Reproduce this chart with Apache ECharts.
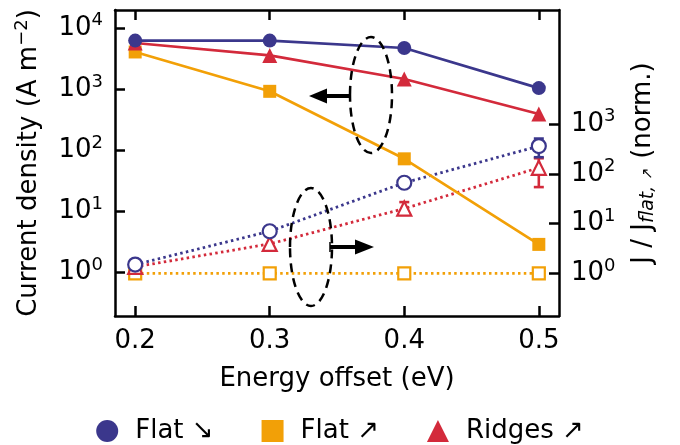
<!DOCTYPE html>
<html>
<head>
<meta charset="utf-8">
<script src="https://cdn.jsdelivr.net/npm/echarts@6/dist/echarts.min.js"></script>
<style>
  html, body { margin: 0; padding: 0; background: #fff; }
  #chart { width: 680px; height: 445px; }
</style>
</head>
<body>
<div id="chart"></div>
<script>
const energyOffset = [0.2, 0.3, 0.4, 0.5];
const xTicks = [0.2, 0.3, 0.4, 0.5];
const leftTicks = [1, 10, 100, 1000, 10000];
const rightTicks = [1, 10, 100, 1000];

// current density (A m^-2), left axis
const flatDown = [6300, 6300, 4760, 1050];
const flatUp = [4100, 930, 73, 2.9];
const ridgesUp = [5750, 3600, 1480, 395];

// normalised to flat-up, right axis
const flatDownNorm = [1.5, 7, 66, 360];
const flatUpNorm = [1, 1, 1, 1];
const ridgesUpNorm = [1.35, 3.9, 20, 132];

// error bars on the normalised data: [x, low, high]
const flatDownErr = [[0.5, 215, 510]];
const ridgesUpErr = [[0.4, 15, 27], [0.5, 54, 205]];

const NAVY = '#3b378c';
const ORANGE = '#f2a007';
const RED = '#d32a3b';
const FONT = 'DejaVu Sans';

const chartDom = document.getElementById('chart');
const myChart = echarts.init(chartDom);

function pairs(ys) {
    return energyOffset.map((x, i) => [x, ys[i]]);
}

const powRich = {
    b: { fontSize: 26, fontFamily: FONT, color: '#000' },
    s: { fontSize: 18, fontFamily: FONT, color: '#000', padding: [0, 0, 15, 0] }
};
function powLabel(v) {
    return '{b|10}{s|' + Math.round(Math.log10(v)) + '}';
}

function solidSeries(name, ys, color, symbol, size) {
    return {
        name: name,
        type: 'line',
        yAxisIndex: 0,
        data: pairs(ys),
        symbol: symbol,
        symbolSize: size,
        showSymbol: true,
        color: color,
        lineStyle: { color: color, width: 2.7 },
        itemStyle: { color: color, borderWidth: 0 },
        animation: false,
        z: 3
    };
}

function openSeries(name, ys, color, symbol, size) {
    return {
        name: name,
        type: 'line',
        yAxisIndex: 1,
        data: pairs(ys),
        symbol: symbol,
        symbolSize: size,
        showSymbol: true,
        color: color,
        lineStyle: { color: color, width: 2.8, type: [2.5, 3.3], cap: 'butt' },
        itemStyle: { color: '#fff', borderColor: color, borderWidth: 2.2 },
        animation: false,
        z: 3
    };
}

function errSeries(name, data, color) {
    return {
        name: name,
        type: 'custom',
        yAxisIndex: 1,
        data: data,
        animation: false,
        z: 2,
        renderItem: function (params, api) {
            const x = api.value(0);
            const lo = api.coord([x, api.value(1)]);
            const hi = api.coord([x, api.value(2)]);
            const w = 5;
            const st = { stroke: color, lineWidth: 2.6 };
            return {
                type: 'group',
                children: [
                    { type: 'line', shape: { x1: lo[0], y1: lo[1], x2: hi[0], y2: hi[1] }, style: st },
                    { type: 'line', shape: { x1: lo[0] - w, y1: lo[1], x2: lo[0] + w, y2: lo[1] }, style: st },
                    { type: 'line', shape: { x1: hi[0] - w, y1: hi[1], x2: hi[0] + w, y2: hi[1] }, style: st }
                ]
            };
        }
    };
}

const axisLineStyle = { color: '#000', width: 2.5 };

const option = {
    backgroundColor: '#fff',
    animation: false,
    textStyle: { fontFamily: FONT, color: '#000' },
    grid: { left: 115, right: 121, top: 10, bottom: 129 },
    legend: {
        data: [
            { name: 'Flat ↘', icon: 'circle' },
            { name: 'Flat ↗', icon: 'rect' },
            { name: 'Ridges ↗', icon: 'triangle' }
        ],
        left: 'center',
        top: 413,
        itemWidth: 22,
        itemHeight: 22,
        itemGap: 48,
        textStyle: { fontSize: 26, fontFamily: FONT, color: '#000', padding: [0, 0, 0, 12] }
    },
    xAxis: [
        {
            type: 'value',
            min: 0.185,
            max: 0.515,
            name: 'Energy offset (eV)',
            nameLocation: 'middle',
            nameGap: 50,
            nameTextStyle: { fontSize: 26, fontFamily: FONT, color: '#000' },
            axisLine: { show: true, lineStyle: axisLineStyle },
            axisTick: { show: true, inside: true, length: 10, lineStyle: axisLineStyle, customValues: xTicks },
            axisLabel: { fontSize: 26, fontFamily: FONT, color: '#000', margin: 12, customValues: xTicks,
                formatter: v => v.toFixed(1) },
            splitLine: { show: false }
        },
        {
            type: 'value',
            position: 'top',
            min: 0.185,
            max: 0.515,
            axisLine: { show: true, lineStyle: axisLineStyle },
            axisTick: { show: true, inside: true, length: 10, lineStyle: axisLineStyle, customValues: xTicks },
            axisLabel: { show: false },
            splitLine: { show: false }
        }
    ],
    yAxis: [
        {
            type: 'log',
            logBase: 10,
            min: Math.pow(10, -0.71),
            max: Math.pow(10, 4.30),
            name: 'Current density (A m{s|−2})',
            nameLocation: 'middle',
            nameRotate: 90,
            nameGap: 70,
            nameTextStyle: {
                fontSize: 26, fontFamily: FONT, color: '#000',
                rich: {
                    s: { fontSize: 18, fontFamily: FONT, color: '#000', padding: [0, 0, 14, 0] }
                }
            },
            axisLine: { show: true, lineStyle: axisLineStyle },
            axisTick: { show: true, inside: true, length: 10, lineStyle: axisLineStyle, customValues: leftTicks },
            axisLabel: { margin: 12, customValues: leftTicks, formatter: powLabel, rich: powRich },
            splitLine: { show: false }
        },
        {
            type: 'log',
            logBase: 10,
            position: 'right',
            min: Math.pow(10, -0.857),
            max: Math.pow(10, 5.29),
            name: 'J / J{i|flat, }{a|↗} (norm.)',
            nameLocation: 'middle',
            nameRotate: 90,
            nameGap: 70,
            nameTextStyle: {
                fontSize: 26, fontFamily: FONT, color: '#000',
                rich: {
                    i: { fontSize: 19, fontStyle: 'italic', fontFamily: FONT, color: '#000', padding: [10, 0, 0, 0] },
                    a: { fontSize: 15, fontFamily: FONT, color: '#000', padding: [10, 0, 0, 0] }
                }
            },
            axisLine: { show: true, lineStyle: axisLineStyle },
            axisTick: { show: true, inside: true, length: 10, lineStyle: axisLineStyle, customValues: rightTicks },
            axisLabel: { margin: 12, customValues: rightTicks, formatter: powLabel, rich: powRich },
            splitLine: { show: false }
        }
    ],
    series: [
        errSeries('errRidges', ridgesUpErr, RED),
        errSeries('errFlatDown', flatDownErr, NAVY),
        openSeries('Flat ↗ norm', flatUpNorm, ORANGE, 'rect', 12),
        openSeries('Ridges ↗ norm', ridgesUpNorm, RED, 'triangle', 14),
        openSeries('Flat ↘ norm', flatDownNorm, NAVY, 'circle', 14),
        solidSeries('Flat ↗', flatUp, ORANGE, 'rect', 13),
        solidSeries('Ridges ↗', ridgesUp, RED, 'triangle', 15),
        solidSeries('Flat ↘', flatDown, NAVY, 'circle', 14)
    ],
    graphic: [
        {
            type: 'ellipse',
            shape: { cx: 371, cy: 95, rx: 21, ry: 58 },
            style: { fill: 'none', stroke: '#000', lineWidth: 2.5, lineDash: [9, 6] },
            z: 10
        },
        {
            type: 'group',
            z: 10,
            children: [
                { type: 'line', shape: { x1: 350, y1: 96, x2: 324, y2: 96 }, style: { stroke: '#000', lineWidth: 4 } },
                { type: 'line', shape: { x1: 350, y1: 91, x2: 350, y2: 101 }, style: { stroke: '#000', lineWidth: 1.5 } },
                { type: 'polygon', shape: { points: [[309, 96], [327, 88.5], [327, 103.5]] }, style: { fill: '#000' } }
            ]
        },
        {
            type: 'ellipse',
            shape: { cx: 311, cy: 247, rx: 21, ry: 59 },
            style: { fill: 'none', stroke: '#000', lineWidth: 2.5, lineDash: [9, 6] },
            z: 10
        },
        {
            type: 'group',
            z: 10,
            children: [
                { type: 'line', shape: { x1: 330, y1: 247, x2: 357, y2: 247 }, style: { stroke: '#000', lineWidth: 4 } },
                { type: 'line', shape: { x1: 330, y1: 242, x2: 330, y2: 252 }, style: { stroke: '#000', lineWidth: 1.5 } },
                { type: 'polygon', shape: { points: [[374, 247], [355, 239.5], [355, 254.5]] }, style: { fill: '#000' } }
            ]
        }
    ]
};

myChart.setOption(option);

window.addEventListener('resize', () => {
    myChart.resize();
});
</script>
</body>
</html>
